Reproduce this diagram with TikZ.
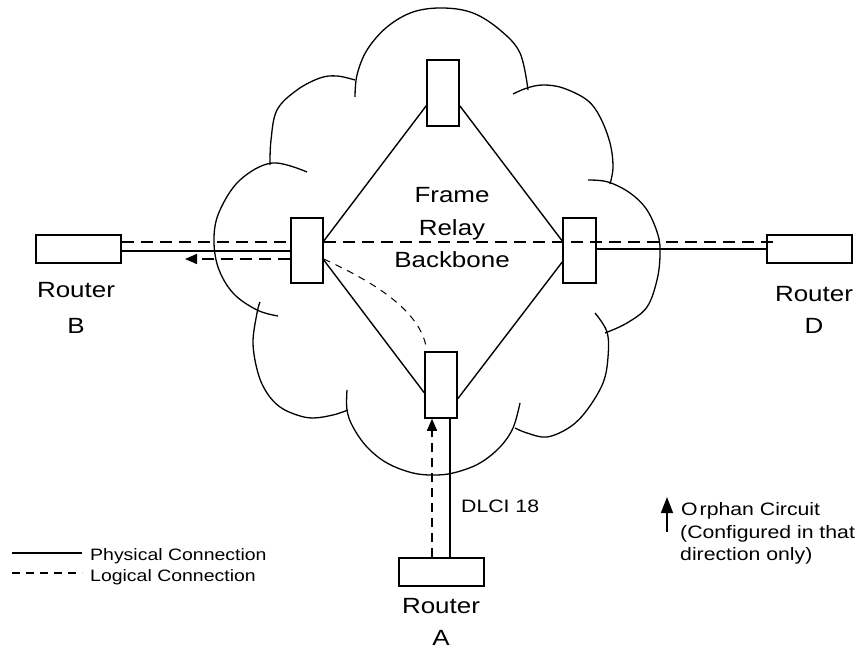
\documentclass[tikz,border=0pt]{standalone}
\usepackage{fontspec}
\newfontfamily\labf[FakeStretch=1.18]{Liberation Sans}
\usetikzlibrary{arrows.meta,calc}
\begin{document}
\begin{tikzpicture}[x=1pt,y=-1pt,
  dev/.style={draw, line width=1.5pt, inner sep=0pt},
  sw/.style={dev, minimum width=32pt, minimum height=65pt},
  rt/.style={dev, minimum width=85pt, minimum height=28pt},
  phys/.style={line width=1.4pt},
  logic/.style={line width=1.5pt, dash pattern=on 12pt off 7pt},
  vlogic/.style={line width=1.5pt, dash pattern=on 9pt off 6pt},
  thinlogic/.style={line width=1pt, dash pattern=on 7pt off 6pt},
  legdash/.style={line width=1.4pt, dash pattern=on 8pt off 6pt},
  cloudline/.style={line width=1.3pt},
  big/.style={font=\labf\fontsize{22}{26}\selectfont, anchor=base, inner sep=0pt},
  mid/.style={font=\labf\fontsize{18}{22}\selectfont, anchor=base west, inner sep=0pt},
  small/.style={font=\labf\fontsize{16.5}{20}\selectfont, anchor=base west, inner sep=0pt},
  tip/.style={-{Triangle[length=12pt,width=10pt]}}
]
\useasboundingbox (0,0) rectangle (864,650);

% cloud
\draw[cloudline] plot[smooth, tension=0.6] coordinates {(270,165) (271,140) (277,110) (297,90) (320,78) (337,76) (355,80)};
\draw[cloudline] plot[smooth, tension=0.6] coordinates {(355,97) (357,75) (367,50) (387,27) (413,12) (443,8) (473,13) (500,30) (520,53) (528,90)};
\draw[cloudline] plot[smooth, tension=0.6] coordinates {(513,94) (527,88) (543,85) (563,88) (587,100) (600,117) (610,143) (613,167) (610,184)};
\draw[cloudline] plot[smooth, tension=0.6] coordinates {(588,180) (608,182) (630,193) (647,210) (658,235) (660,255) (657,280) (647,307) (627,323) (605,333)};
\draw[cloudline] plot[smooth, tension=0.6] coordinates {(595,313) (607,332) (608,357) (603,383) (587,410) (570,427) (547,437) (527,433) (515,428)};
\draw[cloudline] plot[smooth, tension=0.6] coordinates {(520,403) (513,428) (500,447) (480,463) (457,472) (437,475) (413,473) (387,463) (367,447) (353,427) (347,410) (347,390)};
\draw[cloudline] plot[smooth, tension=0.6] coordinates {(348,410) (333,415) (313,418) (297,415) (280,407) (267,393) (258,373) (253,343) (257,313) (260,302)};
\draw[cloudline] plot[smooth, tension=0.6] coordinates {(307,172) (272,163) (240,180) (220,210) (214,237) (218,267) (233,293) (257,310) (278,316)};

% devices
\node[rt] (rb) at (78.5,249) {};
\node[rt] (rd) at (809.5,249) {};
\node[rt] (rA) at (441.5,572) {};
\node[sw] (sL) at (307,250.5) {};
\node[sw, minimum width=33pt] (sR) at (579.5,250.5) {};
\node[sw, minimum height=66pt] (sT) at (443,93) {};
\node[sw, minimum height=66pt] (sB) at (441,385) {};

% backbone trunks
\draw[phys] ([yshift=21pt]sT.south west) -- ([yshift=9.5pt]sL.east);
\draw[phys] ([yshift=21pt]sT.south east) -- ([yshift=9.5pt]sR.west);
\draw[phys] ([yshift=-9.5pt]sL.east) -- ([yshift=26pt]sB.south west);
\draw[phys] ([yshift=-11.5pt]sR.west) -- ([yshift=20pt]sB.south east);

% B - D logical
\coordinate (dA) at ([yshift=7pt]rb.east);
\coordinate (dEnd) at ([xshift=13pt,yshift=7pt]rd.west);
\draw[logic] (dA) -- (dA -| sL.west);
\draw[logic] (dA -| sL.east) -- (dEnd);

% B physical
\coordinate (sA) at ([yshift=-2pt]rb.east);
\draw[phys] (sA) -- (sA -| sL.west);

% orphan toward B
\coordinate (bTip) at (185,259);
\draw[logic, tip] (bTip -| sL.west) -- (bTip);

% D physical
\draw[phys] (rd.west -| sR.east) -- (rd.west);

% A links
\coordinate (vS) at ([xshift=9pt]sB.south);
\draw[phys] (vS) -- (vS |- rA.north);
\coordinate (vD) at ([xshift=-9pt]sB.south);
\draw[vlogic, tip] (vD |- rA.north) -- (vD);

% curved logical
\draw[thinlogic] ([yshift=-8.5pt]sL.east) .. controls (360,276) and (418,305) .. ([xshift=-15pt,yshift=5pt]sB.north);

% orphan legend arrow
\coordinate (oBase) at (667,532);
\coordinate (oTip) at (667,497);
\draw[phys, -{Triangle[length=16pt,width=12pt]}] (oBase) -- (oTip);

% legend lines
\coordinate (l1a) at (12,553);
\coordinate (l1b) at (82,553);
\coordinate (l2a) at (12,573);
\coordinate (l2b) at (82,573);
\draw[phys] (l1a) -- (l1b);
\draw[legdash] (l2a) -- (l2b);

% labels
\node[big] (tB1) at (76,297) {Router};
\node[big] (tB2) at (76,333) {B};
\node[big] (tD1) at (814,301) {Router};
\node[big] (tD2) at (814,333) {D};
\node[big] (tA1) at (441,613) {Router};
\node[big] (tA2) at (441,645) {A};
\node[big] (t1) at (452,202) {Frame};
\node[big] (t2) at (452,235) {Relay};
\node[big] (t3) at (452,267) {Backbone};
\node[mid] (dl) at (461,512) {DLCI 18};
\node[mid] (o1) at (681,515) {O\hspace{2pt}rphan Circuit};
\node[mid] (o2) at (680,538) {(Configured in that};
\node[mid] (o3) at (680,560) {direction only)};
\node[small] (lg1) at (90,560) {Physical Connection};
\node[small] (lg2) at (90,581) {Logical Connection};
\end{tikzpicture}
\end{document}
